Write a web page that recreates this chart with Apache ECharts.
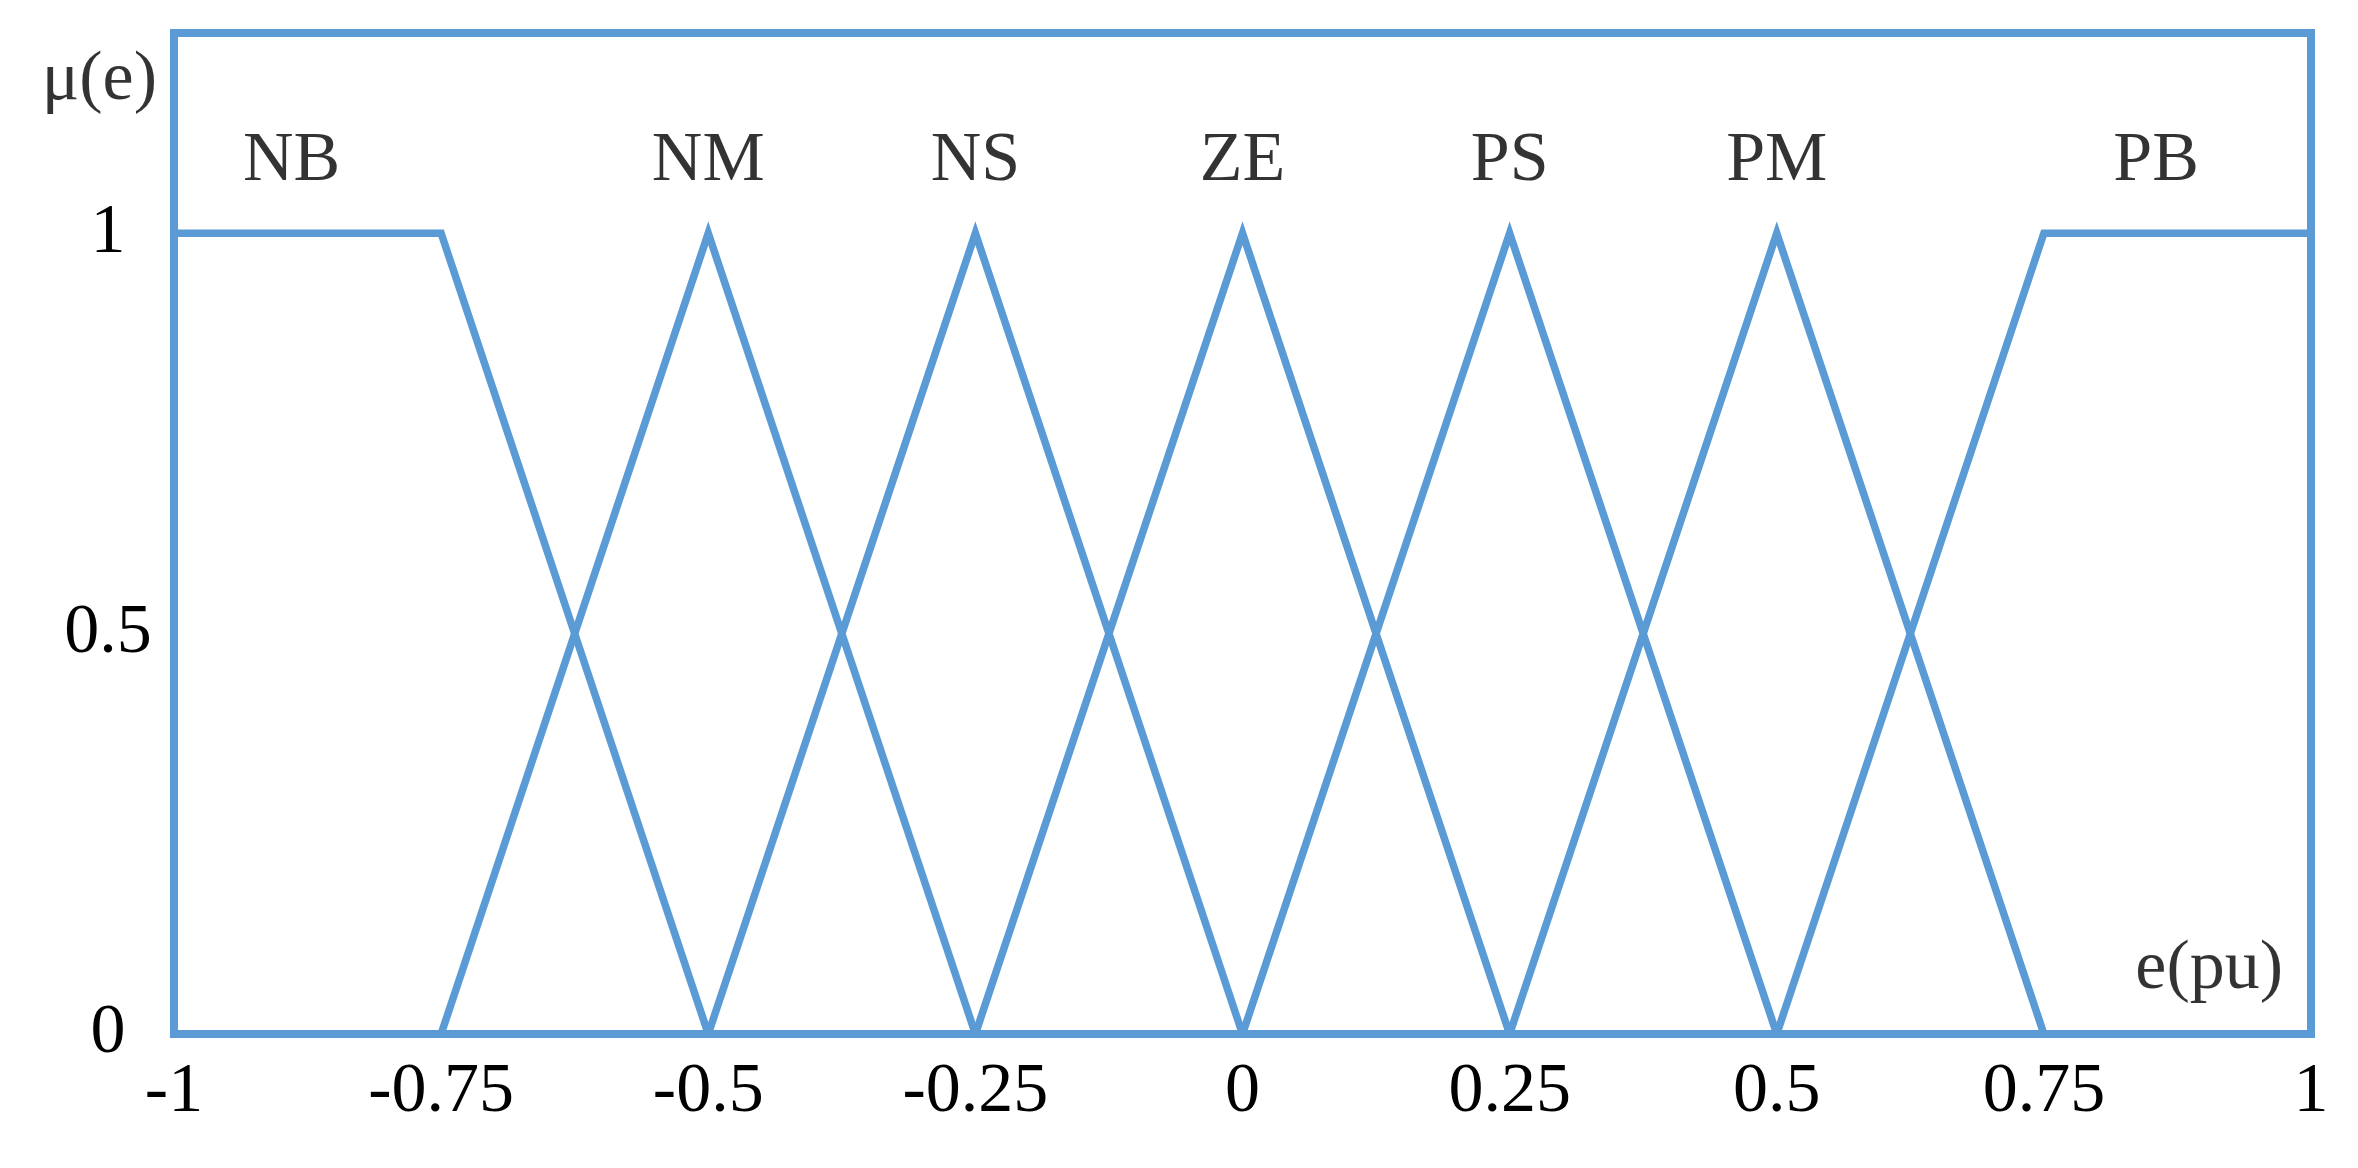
<!DOCTYPE html>
<html>
<head>
<meta charset="utf-8">
<script src="https://cdn.jsdelivr.net/npm/echarts@6/dist/echarts.min.js"></script>
<style>
html,body{margin:0;padding:0;background:#fff;}
#chart{width:2358px;height:1168px;}
</style>
</head>
<body>
<div id="chart"></div>
<script>
// Membership function names
const setNames = ['NB', 'NM', 'NS', 'ZE', 'PS', 'PM', 'PB'];
// Break points (e, mu) of each membership function
const NB = [[-1, 1], [-0.75, 1], [-0.5, 0]];
const NM = [[-0.75, 0], [-0.5, 1], [-0.25, 0]];
const NS = [[-0.5, 0], [-0.25, 1], [0, 0]];
const ZE = [[-0.25, 0], [0, 1], [0.25, 0]];
const PS = [[0, 0], [0.25, 1], [0.5, 0]];
const PM = [[0.25, 0], [0.5, 1], [0.75, 0]];
const PB = [[0.5, 0], [0.75, 1], [1, 1]];
// Label anchor points (e, mu) for the set names
const labelX = [-0.89, -0.5, -0.25, 0, 0.25, 0.5, 0.855];
const labelY = [1.09, 1.09, 1.09, 1.09, 1.09, 1.09, 1.09];
// Axis titles and their anchor points (e, mu)
const axisTitles = ['μ(e)', 'e(pu)'];
const axisTitleX = [-1, 1];
const axisTitleY = [1.19, 0.08];
// Tick labels
const xTicks = [-1, -0.75, -0.5, -0.25, 0, 0.25, 0.5, 0.75, 1];
const xTickLabels = ['-1', '-0.75', '-0.5', '-0.25', '0', '0.25', '0.5', '0.75', '1'];
const yTicks = [0, 0.5, 1];
const yTickLabels = ['0', '0.5', '1'];

const blue = '#5b9bd5';
const font = 'Liberation Serif, Times New Roman, serif';
const sets = [NB, NM, NS, ZE, PS, PM, PB];

function lookup(ticks, labels, v) {
  for (let i = 0; i < ticks.length; i++) {
    if (Math.abs(ticks[i] - v) < 1e-6) return labels[i];
  }
  return '';
}

const textStyle = { fontFamily: font, fontSize: 70, color: '#000', textBorderWidth: 0 };

const series = sets.map((d, i) => ({
  name: setNames[i],
  type: 'line',
  data: d,
  symbol: 'none',
  lineStyle: { color: blue, width: 7.5, join: 'miter' },
  silent: true,
  animation: false,
  z: 3
}));

series.push({
  type: 'scatter',
  data: setNames.map((n, i) => [labelX[i], labelY[i], n]),
  symbolSize: 0,
  silent: true,
  animation: false,
  label: Object.assign({
    show: true,
    position: 'inside',
    formatter: p => p.value[2]
  }, textStyle)
});

series.push({
  type: 'scatter',
  data: [
    { value: [axisTitleX[0], axisTitleY[0], axisTitles[0]], label: { distance: 17 } },
    { value: [axisTitleX[1], axisTitleY[1], axisTitles[1]], label: { distance: 28 } }
  ],
  symbolSize: 0,
  silent: true,
  animation: false,
  clip: false,
  label: Object.assign({
    show: true,
    position: 'left',
    align: 'right',
    verticalAlign: 'middle',
    formatter: p => p.value[2]
  }, textStyle)
});

const chart = echarts.init(document.getElementById('chart'), null, { renderer: 'canvas' });
chart.setOption({
  backgroundColor: '#fff',
  animation: false,
  grid: {
    left: 174, right: 47, top: 33, bottom: 134,
    show: true,
    borderColor: blue,
    borderWidth: 8,
    backgroundColor: 'transparent'
  },
  xAxis: {
    type: 'value',
    min: -1, max: 1, interval: 0.25,
    axisLine: { show: false },
    axisTick: { show: false },
    splitLine: { show: false },
    axisLabel: Object.assign({
      margin: 24,
      formatter: v => lookup(xTicks, xTickLabels, v)
    }, textStyle)
  },
  yAxis: {
    type: 'value',
    min: 0, max: 1.25, interval: 0.25,
    axisLine: { show: false },
    axisTick: { show: false },
    splitLine: { show: false },
    axisLabel: Object.assign({
      margin: 66,
      align: 'center',
      formatter: v => lookup(yTicks, yTickLabels, v)
    }, textStyle)
  },
  series: series
});
</script>
</body>
</html>
